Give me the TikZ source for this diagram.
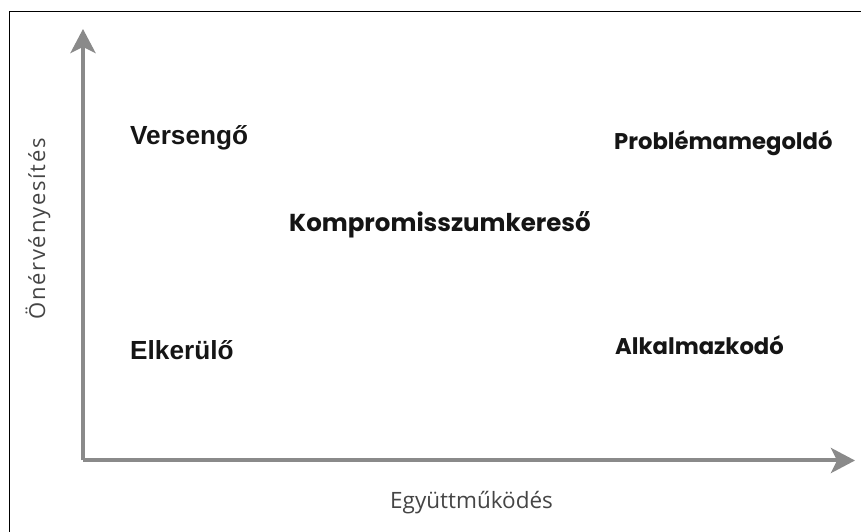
\documentclass[tikz,border=0pt]{standalone}
\usepackage{fontspec}
\usetikzlibrary{arrows.meta}
\newfontfamily\tahomalike{Liberation Sans}
\newfontfamily\geolike{Poppins}
\newfontfamily\axisfont{Open Sans}
\newfontfamily\axisfontspaced{Open Sans}[LetterSpace=8]
\definecolor{axisgray}{HTML}{8A8A8A}
\definecolor{labelgray}{HTML}{454545}
\definecolor{textdark}{HTML}{151515}
\tikzset{
  axisline/.style={draw=axisgray, line width=4pt, -{Stealth[length=24pt,width=25pt,inset=6pt]}},
  stylelabelA/.style={anchor=base west, inner sep=0pt, text=textdark, font=\tahomalike\bfseries\fontsize{26.2}{30}\selectfont},
  stylelabelB/.style={anchor=base west, inner sep=0pt, text=textdark, font=\geolike\bfseries\fontsize{22.7}{27}\selectfont},
  axislabel/.style={anchor=base west, inner sep=0pt, text=labelgray},
}
\begin{document}
\begin{tikzpicture}[x=1pt,y=1pt]
\useasboundingbox (0,0) rectangle (861,532);
% frame (top and left only)
\draw[line width=1.5pt, black] (9.5,0) -- (9.5,520.5) -- (861,520.5);
% axes
\coordinate (origin) at (83,71.5);
\coordinate (ytip) at (83,503);
\coordinate (xtip) at (855,71.5);
\draw[axisline] (origin) -- (ytip);
\draw[axisline] (origin) -- (xtip);
% style labels
\node[stylelabelA] (versengo) at (130,387) {Versengő};
\node[stylelabelA] (elkerulo) at (130,172.5) {Elkerülő};
\node[stylelabelB] (problema) at (614,382) {Problémamegoldó};
\node[stylelabelB, font=\geolike\bfseries\fontsize{24.5}{29}\selectfont] (kompromisszum) at (289,300.5) {Kompromisszumkereső};
\node[stylelabelB] (alkalmazkodo) at (615,177) {Alkalmazkodó};
% axis labels
\node[axislabel, font=\axisfont\fontsize{22.5}{26}\selectfont] (xlabel) at (390,23) {Együttműködés};
\node[axislabel, rotate=90, font=\axisfontspaced\fontsize{22}{26}\selectfont] (ylabel) at (45,212) {Önérvényesítés};
\end{tikzpicture}
\end{document}
